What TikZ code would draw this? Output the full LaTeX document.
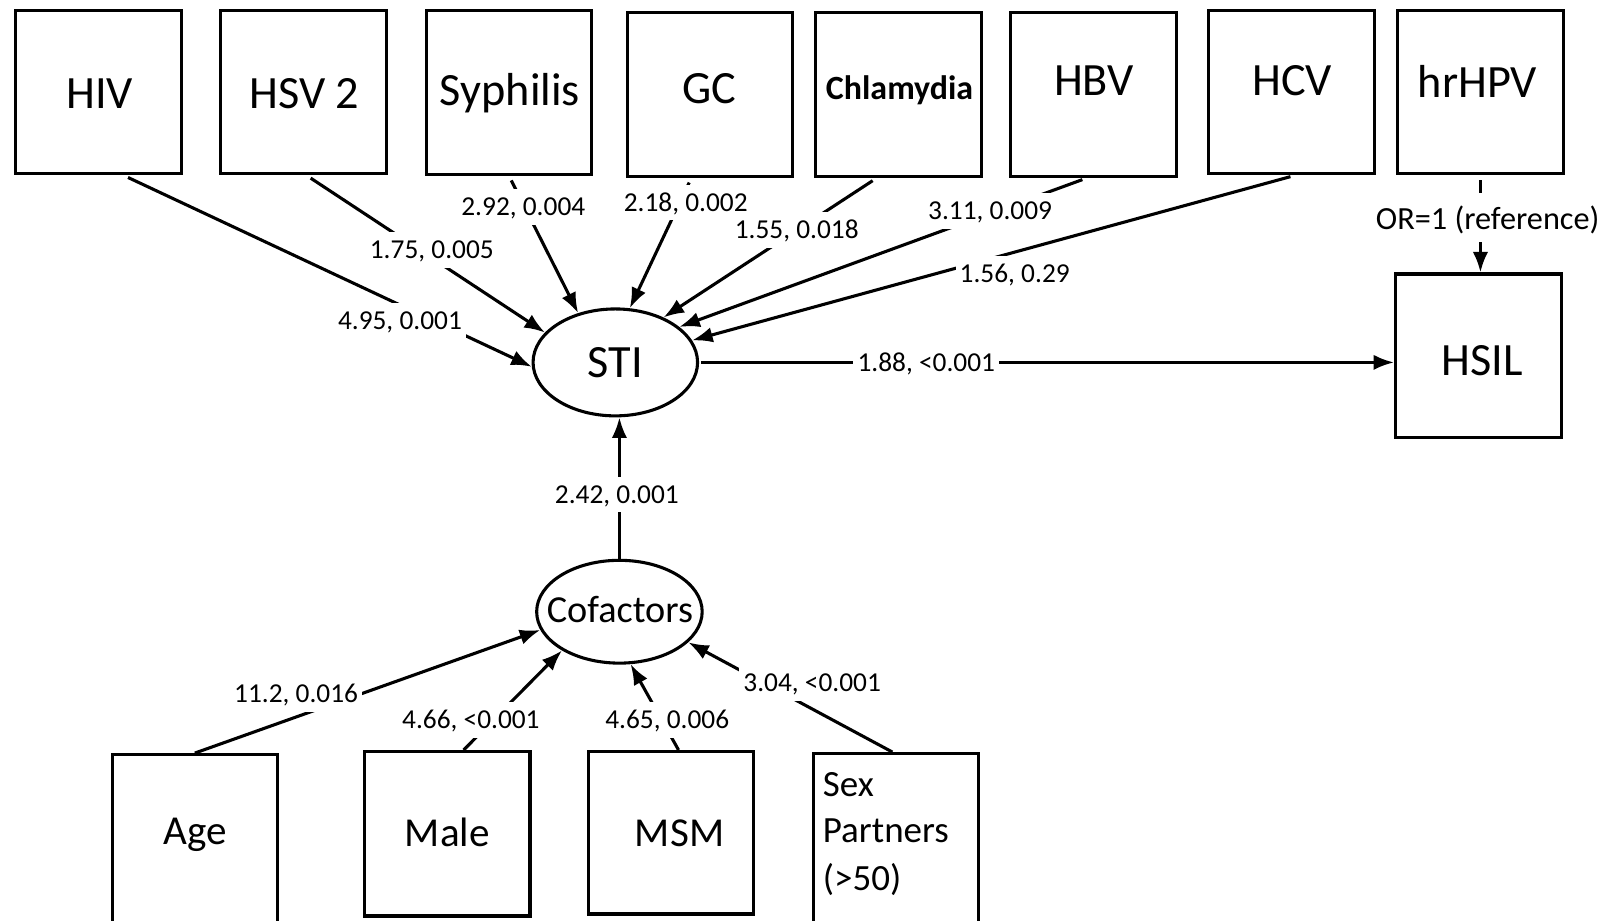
\documentclass[tikz,border=0pt]{standalone}
\usepackage{fontspec}
\setmainfont{Carlito}
\usetikzlibrary{arrows.meta,shapes.geometric}
\begin{document}
\begin{tikzpicture}[x=0.5pt,y=-0.5pt,
  box/.style={draw, line width=1.5pt, minimum width=80.5pt, minimum height=79.5pt, inner sep=0pt},
  big/.style={font=\fontsize{22.5}{27}\selectfont, inner sep=0pt, anchor=base},
  mid/.style={font=\fontsize{20}{24}\selectfont, inner sep=0pt, anchor=base},
  sexf/.style={font=\fontsize{18}{22}\selectfont, inner sep=0pt, anchor=base west},
  lab/.style={font=\fontsize{13.3}{16}\selectfont, fill=white, inner xsep=2pt, inner ysep=4.5pt, text height=8.4pt, text depth=0pt},
  oval/.style={draw, ellipse, line width=1.5pt, inner sep=0pt},
  arr/.style={line width=1.5pt, -{Latex[length=10pt,width=7.5pt]}},
  tail/.style={shorten <=2.5pt}]
\useasboundingbox (0,0) rectangle (1567,895);
% top boxes
\node[box] (hiv) at (96,89.5) {};
\node[box] (hsv) at (295,89.5) {};
\node[box] (syph) at (495,90) {};
\node[box] (gc) at (690.5,92) {};
\node[box] (chl) at (874,92) {};
\node[box] (hbv) at (1063.5,92) {};
\node[box] (hcv) at (1256,89.5) {};
\node[box] (hpv) at (1440,89.5) {};
\node[box] (hsil) at (1438,346) {};
% bottom boxes
\node[box, minimum height=82pt] (age) at (189.5,816) {};
\node[box, minimum height=80pt] (male) at (435,811) {};
\node[box, minimum height=79pt] (msm) at (652.5,810) {};
\node[box, minimum height=82pt] (sex) at (871.5,815) {};
% texts
\node[big] (hivt) at (97,105.5) {HIV};
\node[big] (hsvt) at (296,105.5) {HSV 2};
\node[big] (syt) at (496,103) {Syphilis};
\node[big] (gct) at (690,101) {GC};
\node[big, font=\fontsize{16.5}{20}\selectfont\bfseries] (chlt) at (875,96.5) {Chlamydia};
\node[big] (hbvt) at (1064,93) {HBV};
\node[big] (hcvt) at (1257,93) {HCV};
\node[big] (hpvt) at (1437,95) {hrHPV};
\node[big] (hsilt) at (1442,365) {HSIL};
\node[mid] (aget) at (190,821) {Age};
\node[mid] (malet) at (435,823) {Male};
\node[mid] (msmt) at (661,823) {MSM};
\node[sexf] (sex1) at (800,774.5) {Sex};
\node[sexf] (sex2) at (800,819.5) {Partners};
\node[sexf] (sex3) at (800,866) {(>50)};
% ellipses
\node[oval, minimum width=80pt, minimum height=52pt, font=\fontsize{22.5}{27}\selectfont] (sti) at (598.5,352.5) {STI};
\node[oval, minimum width=80.5pt, minimum height=50pt] (cof) at (602.5,595) {};
\node[font=\fontsize{18.6}{22}\selectfont, inner sep=0pt, anchor=base] (coft) at (603,605) {Cofactors};
% edges
\draw[arr,tail] ([xshift=12pt]hiv.south) -- (sti.183.6);
\draw[arr,tail] ([xshift=1.5pt]hsv.south) -- (sti.157.5);
\draw[arr,tail] (syph.south) -- (sti.127.6);
\draw[arr,tail] ([xshift=-9pt]gc.south) -- (sti.75.7);
\draw[arr,tail] ([xshift=-10.5pt]chl.south) -- (sti.43);
\draw[arr,tail] ([xshift=-3pt]hbv.south) -- (sti.29.7);
\draw[arr,tail] ([xshift=2pt]hcv.south) -- (sti.16.3);
\draw[arr,shorten <=1pt] (sti.east) -- (sti.east -| hsil.west);
\draw[arr,tail,dash pattern=on 6pt off 4pt] (hpv.south) -- (hpv.south |- hsil.north);
\draw[arr] (cof.north) -- (cof.north |- sti.south);
\draw[arr] (age.north) -- (cof.193);
\draw[arr] ([xshift=8pt]male.north) -- (cof.214);
\draw[arr] ([xshift=3.75pt]msm.north) -- (cof.282);
\draw[arr] ([xshift=-1.75pt]sex.north) -- (cof.336);
% labels
\node[lab] (l1) at (389,312) {4.95, 0.001};
\node[lab] (l2) at (420,243) {1.75, 0.005};
\node[lab] (l3) at (509,201) {2.92, 0.004};
\node[lab] (l4) at (667,197) {2.18, 0.002};
\node[lab] (l5) at (775,224) {1.55, 0.018};
\node[lab] (l6) at (963,205) {3.11, 0.009};
\node[lab] (l7) at (987,266) {1.56, 0.29};
\node[lab] (l8) at (901,353) {1.88, <0.001};
\node[lab, font=\fontsize{15.7}{18}\selectfont, text height=10pt] (l9) at (1447,213) {OR=1 (reference)};
\node[lab] (l10) at (600,481) {2.42, 0.001};
\node[lab] (l11) at (288,675) {11.2, 0.016};
\node[lab] (l12) at (458,700) {4.66, <0.001};
\node[lab] (l13) at (649,700) {4.65, 0.006};
\node[lab] (l14) at (790,664) {3.04, <0.001};
\end{tikzpicture}
\end{document}
